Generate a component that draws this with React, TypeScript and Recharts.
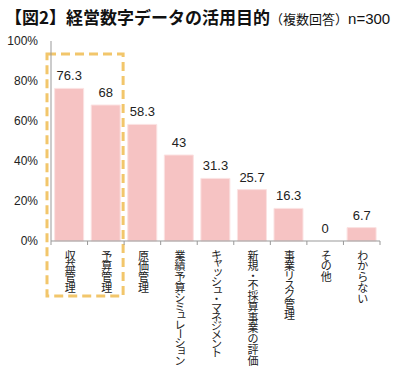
import React from 'react';
import { ComposedChart, Bar, Line, XAxis, YAxis, LabelList, ReferenceArea } from 'recharts';

const categories = [
  '収益管理',
  '予算管理',
  '原価管理',
  '業績予算シミュレーション',
  'キャッシュ・マネジメント',
  '新規・不採算事業の評価',
  '事業リスク管理',
  'その他',
  'わからない',
];
const values = [76.3, 68, 58.3, 43, 31.3, 25.7, 16.3, 0, 6.7];
const yTicks = [0, 20, 40, 60, 80, 100];

const data = categories.map((name, i) => ({ name, value: values[i] }));

const CJK = '"Noto Sans CJK JP", sans-serif';
const LATIN = '"Liberation Sans", Arial, sans-serif';

const SMALL_KANA = 'ャュョッァィゥェォゃゅょっ';
const FS = 11;

// vertical label pitch: kanji/hiragana wider, katakana a bit tighter (like the proportional font in the original)
function pitch(ch: string) {
  if (ch === '・') return 8;
  if (/[\u30a0-\u30ff]/.test(ch)) return 9;
  return 10.8;
}

function CategoryTick(props: any) {
  const { x, y, payload, index, width } = props;
  const band = width / categories.length;
  const left = x - band / 2;
  let top = y + 9;
  const spans = Array.from(String(payload.value)).map((ch, i) => {
    const p = pitch(ch);
    let cx = x + 1;
    let cy = top + p / 2;
    top += p;
    if (SMALL_KANA.includes(ch)) {
      cx += 1.5;
      cy -= 1.5;
    }
    if (ch === 'ー') {
      // long vowel mark turned upright for vertical text
      return (
        <tspan key={i} x={cx + 1.3} y={cy - FS / 2} rotate={90}>
          {ch}
        </tspan>
      );
    }
    return (
      <tspan key={i} x={cx} y={cy + 0.38 * FS}>
        {ch}
      </tspan>
    );
  });
  return (
    <g>
      <line x1={left} y1={y} x2={left} y2={y + 4} stroke="#999" />
      {index === categories.length - 1 && (
        <line x1={left + band} y1={y} x2={left + band} y2={y + 4} stroke="#999" />
      )}
      <text fontSize={FS} fill="#222" textAnchor="middle" fontFamily={CJK}>
        {spans}
      </text>
    </g>
  );
}

function DashedBox(props: any) {
  const { x, y, width, height } = props;
  return (
    <rect
      x={x - 4}
      y={y}
      width={width + 3}
      height={height}
      fill="none"
      stroke="#f2c66b"
      strokeWidth={3}
      strokeDasharray="9 5"
    />
  );
}

export default function App() {
  return (
    <div style={{ position: 'absolute', left: 0, top: 0, width: 400, height: 370, background: '#fff' }}>
      <div
        style={{
          position: 'absolute',
          left: 5,
          top: 4,
          whiteSpace: 'nowrap',
          fontFamily: CJK,
          color: '#111',
        }}
      >
        <span style={{ fontSize: 17, fontWeight: 700 }}>【図2】経営数字データの活用目的</span>
        <span style={{ fontSize: 13 }}>（複数回答）</span>
        <span style={{ fontSize: 15, fontFamily: LATIN }}>n=300</span>
      </div>
      <ComposedChart
        width={400}
        height={370}
        data={data}
        margin={{ top: 41, right: 20, left: 0, bottom: 0 }}
        barCategoryGap="10%"
      >
        <XAxis
          dataKey="name"
          height={129}
          interval={0}
          tickLine={false}
          tickSize={0}
          tickMargin={0}
          axisLine={{ stroke: '#999' }}
          tick={<CategoryTick />}
        />
        <XAxis xAxisId="top" orientation="top" dataKey="name" height={0} tick={false} tickLine={false} axisLine={{ stroke: '#888' }} />
        <YAxis
          type="number"
          domain={[0, 100]}
          ticks={yTicks}
          width={51}
          tickSize={0}
          tickMargin={13}
          tickFormatter={(v) => `${v}%`}
          tick={{ fontSize: 12, fill: '#222', fontFamily: LATIN }}
          axisLine={{ stroke: '#999' }}
        />
        <YAxis yAxisId="right" orientation="right" domain={[0, 100]} width={0} tick={false} tickLine={false} axisLine={{ stroke: '#aaa', strokeWidth: 2 }} />
        <Bar dataKey="value" fill="#f6c3c3" stroke="#fbe2e2" isAnimationActive={false} />
        <Line dataKey="value" stroke="none" dot={false} activeDot={false} isAnimationActive={false}>
          <LabelList
            dataKey="value"
            position="top"
            offset={8}
            style={{ fontSize: 13, fill: '#222', fontFamily: LATIN }}
          />
        </Line>
        <ReferenceArea
          x1={categories[0]}
          x2={categories[1]}
          y1={93.5}
          y2={-27.5}
          ifOverflow="visible"
          shape={<DashedBox />}
        />
      </ComposedChart>
    </div>
  );
}
